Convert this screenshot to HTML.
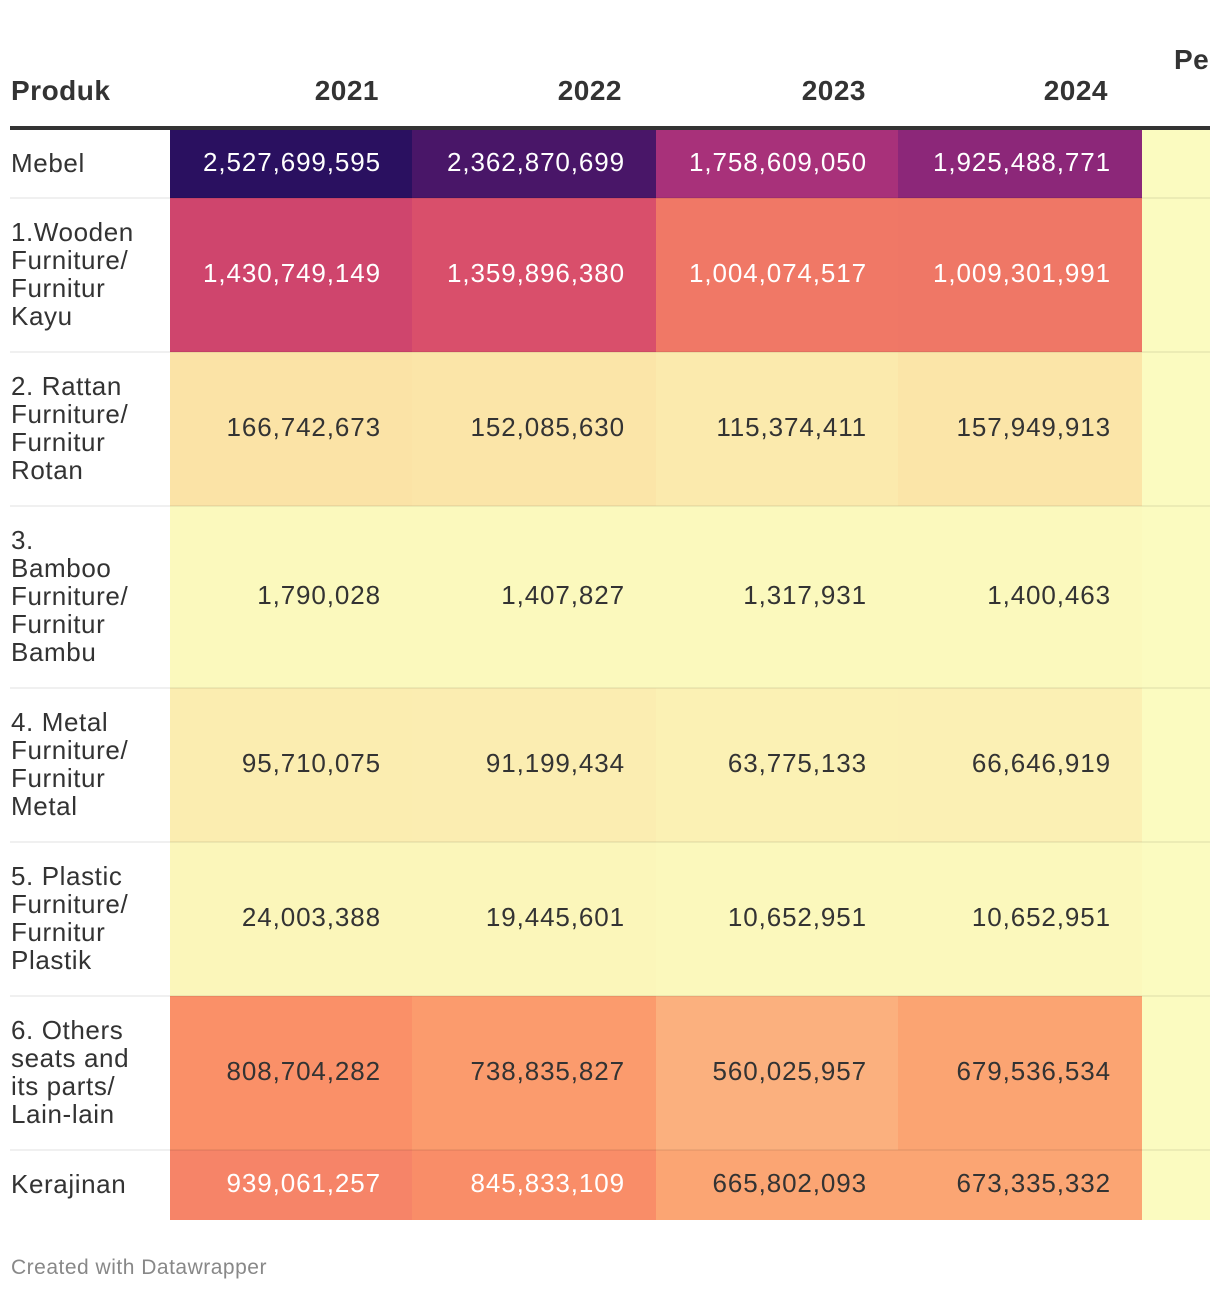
<!DOCTYPE html>
<html><head><meta charset="utf-8"><style>
body{margin:0;width:1220px;height:1292px;background:#fff;font-family:"Liberation Sans",Arial,sans-serif;color:#333;position:relative;overflow:hidden}
.h{position:absolute;top:75px;font-weight:bold;font-size:28px;color:#333;letter-spacing:0.5px}
.cell{position:absolute;box-sizing:border-box;display:flex;align-items:center;justify-content:flex-end;padding-right:31px;padding-bottom:3px;font-size:26px;letter-spacing:0.9px}
.lab{position:absolute;left:11px;width:155px;font-size:26px;letter-spacing:0.6px;line-height:28px;display:flex;align-items:center;color:#333;white-space:nowrap;padding-bottom:3px;box-sizing:border-box}
.sep{position:absolute;height:2px;background:rgba(0,0,0,0.06)}
</style></head><body>
<div id="t"></div>
<div class="h" style="left:11px">Produk</div>
<div class="h" style="left:170px;width:209px;text-align:right">2021</div>
<div class="h" style="left:412px;width:210px;text-align:right">2022</div>
<div class="h" style="left:656px;width:210px;text-align:right">2023</div>
<div class="h" style="left:898px;width:210px;text-align:right">2024</div>
<div class="h" style="left:1174px;top:44px">Pe</div>
<div style="position:absolute;left:10px;top:126px;width:1200px;height:4px;background:#333"></div>
<div style="position:absolute;left:11px;top:1256px;font-size:21px;letter-spacing:0.5px;color:#888">Created with Datawrapper</div>
<script>
const labels=["Mebel","1.Wooden\nFurniture/\nFurnitur\nKayu","2. Rattan\nFurniture/\nFurnitur\nRotan","3.\nBamboo\nFurniture/\nFurnitur\nBambu","4. Metal\nFurniture/\nFurnitur\nMetal","5. Plastic\nFurniture/\nFurnitur\nPlastik","6. Others\nseats and\nits parts/\nLain-lain","Kerajinan"];
const v2021=[2527699595,1430749149,166742673,1790028,95710075,24003388,808704282,939061257];
const v2022=[2362870699,1359896380,152085630,1407827,91199434,19445601,738835827,845833109];
const v2023=[1758609050,1004074517,115374411,1317931,63775133,10652951,560025957,665802093];
const v2024=[1925488771,1009301991,157949913,1400463,66646919,10652951,679536534,673335332];
const stops=[[0,"#fbf9bd"],[0.17e9,"#fbe3a6"],[0.56e9,"#fbb07e"],[0.68e9,"#fba472"],[0.81e9,"#fa9068"],[0.94e9,"#f68468"],[1.0e9,"#f07866"],[1.36e9,"#d94f6b"],[1.43e9,"#cf456d"],[1.76e9,"#a8317a"],[1.93e9,"#8b2779"],[2.36e9,"#4a1668"],[2.53e9,"#2a1060"]];
function hx(c){return [1,3,5].map(i=>parseInt(c.substr(i,2),16));}
function color(v){for(let i=1;i<stops.length;i++){if(v<=stops[i][0]){const a=stops[i-1],b=stops[i];const t=(v-a[0])/(b[0]-a[0]);const A=hx(a[1]),B=hx(b[1]);return "rgb("+A.map((x,k)=>Math.round(x+(B[k]-x)*t)).join(",")+")";}}return stops[stops.length-1][1];}
const rowTops=[130,198,352,506,688,842,996,1150,1220];
const colX=[170,412,656,898,1142];
const cols=[v2021,v2022,v2023,v2024];
const body=document.body;
labels.forEach((lab,r)=>{
  const y=rowTops[r],h=rowTops[r+1]-y;
  const l=document.createElement('div');l.className='lab';
  
  
  l.style.top=y+'px';l.style.height=h+'px';
  const sp=document.createElement('span');sp.style.whiteSpace='pre-line';sp.textContent=lab;l.appendChild(sp);
  body.appendChild(l);
  cols.forEach((arr,c)=>{
    const d=document.createElement('div');d.className='cell';
    
    
    const v=arr[r];
    d.style.left=colX[c]+'px';d.style.top=y+'px';d.style.width=(colX[c+1]-colX[c])+'px';d.style.height=h+'px';
    d.style.background=color(v);d.style.color=v>830e6?'#fff':'#333';
    d.textContent=v.toLocaleString('en-US');body.appendChild(d);
  });
  const p=document.createElement('div');p.className='cell';
  
  
  p.style.left='1142px';p.style.top=y+'px';p.style.width='68px';p.style.height=h+'px';p.style.background='#fbfbc0';
  body.appendChild(p);
  if(r>0){const s=document.createElement('div');s.className='sep';
    
    
    s.style.left='10px';s.style.width='1200px';s.style.top=(y-1)+'px';body.appendChild(s);}
});
</script>
</body></html>
